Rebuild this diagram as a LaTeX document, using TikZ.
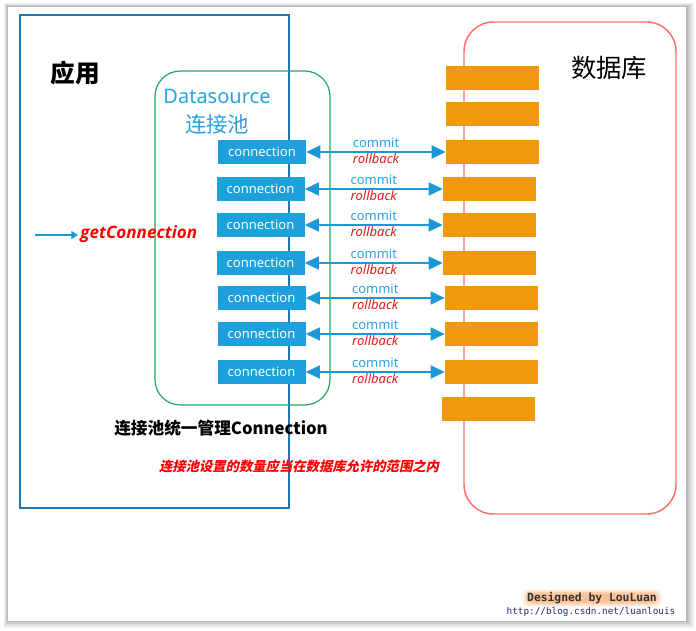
\documentclass[tikz,border=0pt]{standalone}
\usepackage{fontspec}
\setmainfont{Noto Sans}
\newfontfamily\cjk{Noto Sans CJK SC}
\newfontfamily\cjkbi[BoldFeatures={FakeSlant=0.22}]{Noto Sans CJK SC}
\newfontfamily\gcfont{Open Sans}
\newfontfamily\mono{DejaVu Sans Mono}
\usetikzlibrary{arrows.meta,calc}
\definecolor{appblue}{RGB}{31,119,180}
\definecolor{poolgreen}{RGB}{34,170,90}
\definecolor{dbred}{RGB}{255,110,100}
\definecolor{conblue}{RGB}{29,160,220}
\definecolor{orangebox}{RGB}{240,152,14}
\definecolor{arrowblue}{RGB}{29,152,215}
\definecolor{textblue}{RGB}{41,163,224}
\definecolor{rbred}{RGB}{225,30,30}
\definecolor{navy}{RGB}{30,45,110}
\definecolor{glow}{RGB}{250,160,90}
\tikzset{
  conbox/.style={fill=conblue, text=white, minimum width=66pt, minimum height=18pt, inner sep=0pt, font=\fontsize{9.75}{10}\selectfont},
  orabox/.style={fill=orangebox, minimum width=69.75pt, minimum height=18pt, inner sep=0pt},
  link/.style={draw=arrowblue, line width=1.1pt, {Triangle[length=10.5pt,width=9.75pt]}-{Triangle[length=10.5pt,width=9.75pt]}},
  commitlbl/.style={text=textblue, inner sep=0pt, font=\fontsize{9.75}{10}\selectfont},
  rollbacklbl/.style={text=rbred, inner sep=0pt, font=\fontsize{9.75}{10}\selectfont\itshape},
}
\begin{document}
\begin{tikzpicture}[x=0.75pt,y=-0.75pt]
\useasboundingbox (0,0) rectangle (696,631);
\fill[white] (0,0) rectangle (696,631);
% paper with shadow
\fill[black!6] (4,3) rectangle (694,628);
\fill[black!12] (5,4) rectangle (692,626);
\fill[black!20] (6,5) rectangle (690,624);
\fill[black!28] (7,6) rectangle (688,622);
\fill[white] (8,7) rectangle (686,621);
% big frames
\draw[appblue, line width=0.8pt] (20,15) rectangle (289,508);
\draw[poolgreen, line width=0.9pt, rounded corners=19pt] (155,71) rectangle (330,405);
\draw[dbred, line width=1.1pt, rounded corners=22pt] (464,22) rectangle (676,514);
% titles
\node (app) at (75,73) {\cjk\bfseries\fontsize{18.5}{18.5}\selectfont 应用};
\node[text=textblue, font=\fontsize{15}{15}\selectfont] (ds) at (217,96) {Datasource};
\node[text=textblue] (pool) at (217,124) {\cjk\fontsize{16}{16}\selectfont 连接池};
\node (db) at (609,68) {\cjk\fontsize{19}{19}\selectfont 数据库};
% connection boxes
\node[conbox] (c1) at (262,152) {connection};
\node[conbox] (c2) at (260.5,189) {connection};
\node[conbox] (c3) at (260.5,225) {connection};
\node[conbox] (c4) at (260.5,263) {connection};
\node[conbox] (c5) at (261.5,298) {connection};
\node[conbox] (c6) at (261.5,334) {connection};
\node[conbox] (c7) at (261.5,372) {connection};
% database boxes
\node[orabox] (o1) at (492.5,78) {};
\node[orabox] (o2) at (492.5,114) {};
\node[orabox] (o3) at (492.5,152) {};
\node[orabox] (o4) at (489.5,189) {};
\node[orabox] (o5) at (489.5,225) {};
\node[orabox] (o6) at (489.5,263) {};
\node[orabox] (o7) at (491.5,298) {};
\node[orabox] (o8) at (491.5,334) {};
\node[orabox] (o9) at (491.5,372) {};
\node[orabox] (o10) at (488.5,409) {};
% links
\foreach \c/\o in {c1/o3,c2/o4,c3/o5,c4/o6,c5/o7,c6/o8,c7/o9}{
  \draw[link] (\c.east) -- (\c.east -| \o.west) coordinate[midway] (m\c);
  \node[commitlbl] (cm\c) at ([yshift=6.75pt]m\c) {commit};
  \node[rollbacklbl] (rb\c) at ([yshift=-5.25pt]m\c) {rollback};
}
% getConnection
\coordinate (gcstart) at (35,235);
\node[anchor=west, inner sep=1.5pt, text={rgb,255:red,255;green,0;blue,0}, font=\gcfont\fontsize{12.8}{13}\selectfont\bfseries\itshape] (gc) at (78,234) {getConnection};
\draw[arrowblue, line width=0.8pt, -{Triangle[length=5pt,width=6pt]}] (gcstart) -- (gcstart -| gc.west);
% captions
\node (mgr) at (221,428) {\cjk\bfseries\fontsize{12.5}{12.5}\selectfont 连接池统一管理Connection};
\node[text={rgb,255:red,255;green,0;blue,0}] (note) at (299,466) {\cjkbi\bfseries\fontsize{10}{10}\selectfont 连接池设置的数量应当在数据库允许的范围之内};
% signature with soft glow
\foreach \w/\h/\o in {140/18/0.12,136/15/0.18,133/12/0.25,130/9/0.3}{
  \fill[glow, opacity=\o, rounded corners=4pt] ($(592,598)+(-\w/2,-\h/2)$) rectangle ($(592,598)+(\w/2,\h/2)$);
}
\node[text=black!80, font=\mono\bfseries\fontsize{8.5}{9}\selectfont] (sig) at (592,598) {Designed by LouLuan};
\node[text=navy, font=\mono\fontsize{7}{8}\selectfont] (url) at (591,612) {http://blog.csdn.net/luanlouis};
\end{tikzpicture}
\end{document}
